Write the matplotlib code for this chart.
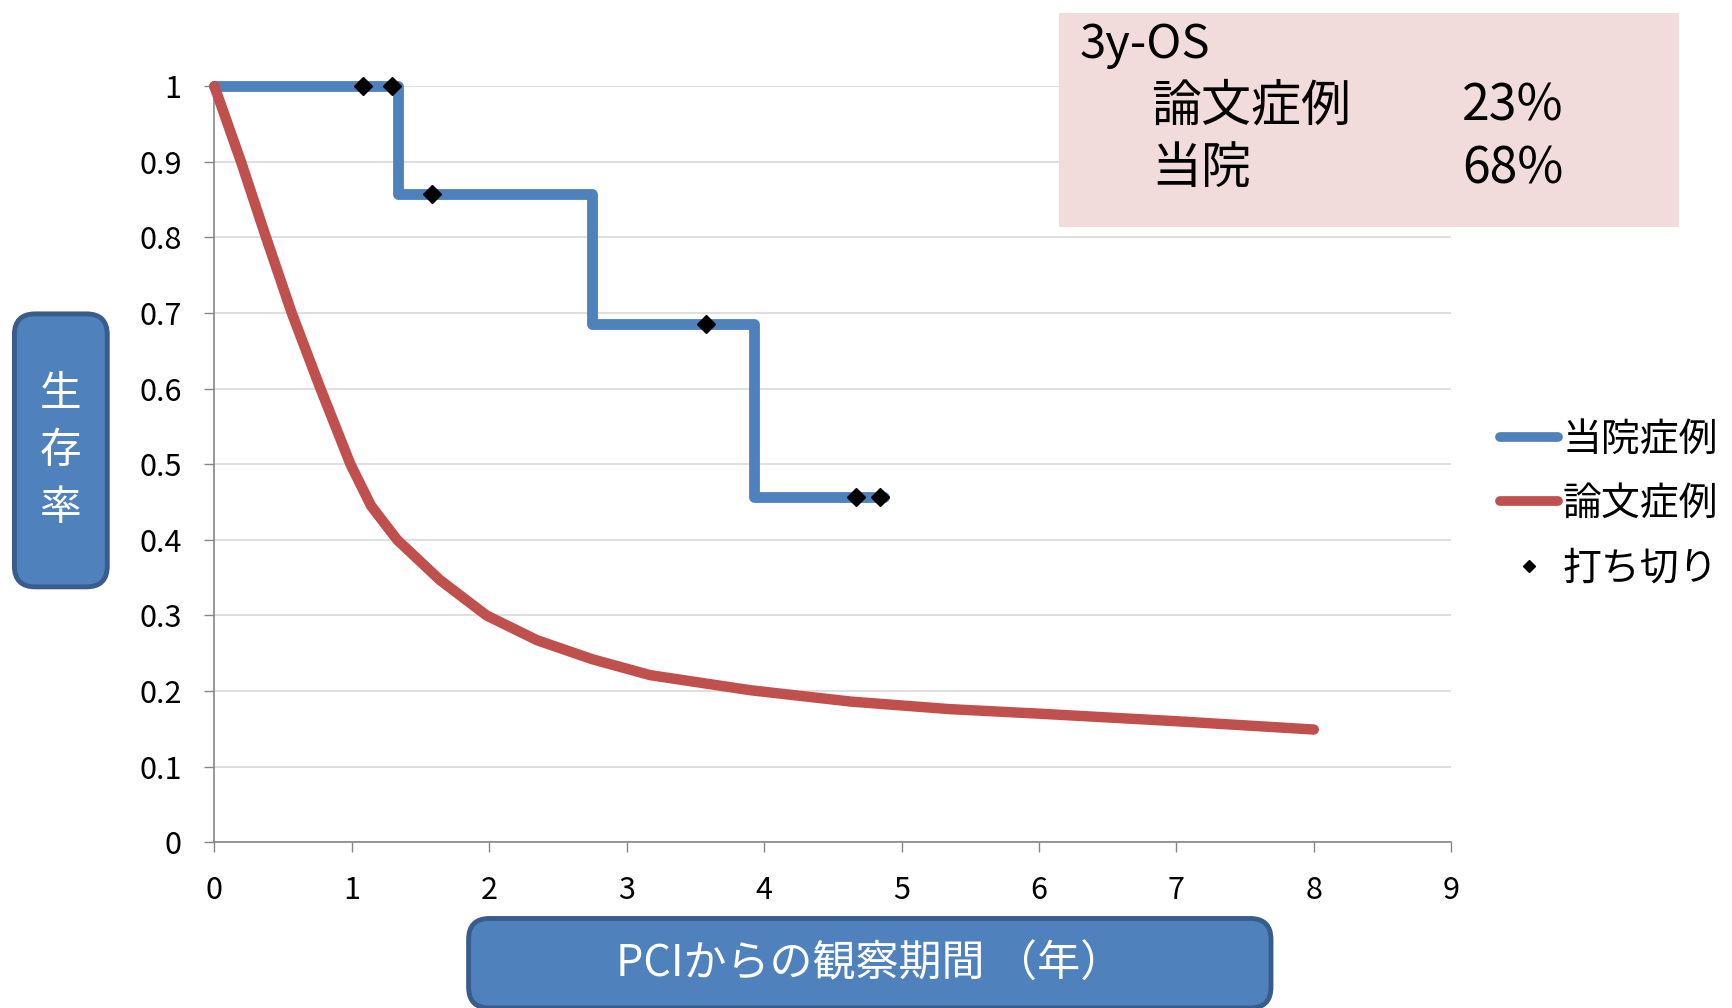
import matplotlib
matplotlib.use("Agg")
import matplotlib.pyplot as plt
from matplotlib.lines import Line2D
from matplotlib.patches import FancyBboxPatch, Rectangle

plt.rcParams['font.family'] = ['Noto Sans CJK JP', 'DejaVu Sans']

# Kaplan-Meier curve of our hospital's cases (years, survival)
km_times = [0, 1.335, 2.746, 3.93, 4.87]
km_surv = [1.0, 0.857, 0.686, 0.457, 0.457]

# Censored observations
cens_times = [1.08, 1.29, 1.58, 3.58, 4.67, 4.84]
cens_surv = [1.0, 1.0, 0.857, 0.686, 0.457, 0.457]

# Survival curve reported in the literature
lit_times = [0, 0.194, 0.376, 0.563, 0.772, 0.99, 1.14, 1.33, 1.64, 1.98,
             2.35, 2.75, 3.17, 3.9, 4.63, 5.35, 6.0, 7.0, 8.0]
lit_surv = [1.0, 0.9, 0.8, 0.7, 0.6, 0.5, 0.445, 0.4, 0.347, 0.3,
            0.267, 0.242, 0.221, 0.201, 0.186, 0.176, 0.170, 0.160, 0.149]

x_ticks = list(range(0, 10))
y_ticks = [0, 0.1, 0.2, 0.3, 0.4, 0.5, 0.6, 0.7, 0.8, 0.9, 1.0]
y_tick_labels = ['0', '0.1', '0.2', '0.3', '0.4', '0.5', '0.6', '0.7', '0.8', '0.9', '1']

legend_labels = ['当院症例', '論文症例', '打ち切り']
os_title = '3y-OS'
os_groups = ['論文症例', '当院']
os_values = ['23%', '68%']

blue = '#4F81BD'
red = '#C0504D'
grid_c = '#D9D9D9'
axis_c = '#868686'

W, H = 1733, 1008
fig = plt.figure(figsize=(W / 100, H / 100), dpi=100)
ax = fig.add_axes([0.1237, 0.1645, 0.8374 - 0.1237, 0.9145 - 0.1645])

ax.step(km_times, km_surv, where='post', color=blue, lw=7.8,
        solid_joinstyle='round', solid_capstyle='round', clip_on=False, zorder=3)
ax.plot(lit_times, lit_surv, color=red, lw=7.5,
        solid_joinstyle='round', solid_capstyle='round', clip_on=False, zorder=3)
ax.plot(cens_times, cens_surv, linestyle='none', marker='D', markersize=9.5,
        color='black', clip_on=False, zorder=4)

ax.set_xlim(0, 9)
ax.set_ylim(0, 1)
ax.set_xticks(x_ticks)
ax.set_yticks(y_ticks)
ax.set_yticklabels(y_tick_labels)
ax.yaxis.grid(True, color=grid_c, lw=1.2)
ax.set_axisbelow(True)
for s in ['top', 'right']:
    ax.spines[s].set_visible(False)
for s in ['left', 'bottom']:
    ax.spines[s].set_color(axis_c)
    ax.spines[s].set_linewidth(1.2)
ax.tick_params(axis='both', direction='out', length=7.5, width=1.0,
               color=axis_c, labelsize=22, labelcolor='black')
ax.tick_params(axis='x', pad=16)
ax.tick_params(axis='y', pad=16)

# Legend on the right
handles = [
    Line2D([], [], color=blue, lw=7, solid_capstyle='round'),
    Line2D([], [], color=red, lw=7, solid_capstyle='round'),
    Line2D([], [], linestyle='none', marker='D', markersize=6.5, color='black'),
]
fig.legend(handles, legend_labels, loc='center left',
           bbox_to_anchor=(0.8654, 0.50), bbox_transform=fig.transFigure,
           frameon=False, fontsize=28, borderpad=0, borderaxespad=0,
           handlelength=1.5, handletextpad=0.12, labelspacing=0.62)

# 3-year overall survival summary box
fig.patches.append(Rectangle((0.611, 0.775), 0.969 - 0.611, 0.987 - 0.775,
                             transform=fig.transFigure, facecolor='#F2DCDB',
                             edgecolor='none', zorder=5))
fig.text(0.623, 0.956, os_title, fontsize=34, va='center', ha='left', zorder=6)
for i, (g, v) in enumerate(zip(os_groups, os_values)):
    yy = 0.8947 - i * 0.0625
    fig.text(0.6645, yy, g, fontsize=36, va='center', ha='left', zorder=6)
    fig.text(0.8437, yy, v, fontsize=36, va='center', ha='left', zorder=6)

# Rounded label boxes for the axes
asp = W / H
ybox = FancyBboxPatch((0.0083, 0.4178), 0.0619 - 0.0083, 0.6886 - 0.4178,
                      boxstyle='round,pad=0,rounding_size=0.012',
                      mutation_aspect=asp, transform=fig.transFigure,
                      facecolor=blue, edgecolor='#385D8A', lw=3.5, zorder=5)
fig.patches.append(ybox)
for i, ch in enumerate('生存率'):
    fig.text(0.0351, 1 - (357 + i * 51.5) / 912, ch, color='white', fontsize=30,
             ha='center', va='center', zorder=6)

xbox = FancyBboxPatch((0.2704, 0.0), 0.7334 - 0.2704, 0.0888,
                      boxstyle='round,pad=0,rounding_size=0.012',
                      mutation_aspect=asp, transform=fig.transFigure,
                      facecolor=blue, edgecolor='#385D8A', lw=3.5, zorder=5)
fig.patches.append(xbox)
fig.text(0.502, 0.0428, 'PCIからの観察期間 （年）', color='white', fontsize=31,
         ha='center', va='center', zorder=6)

fig.savefig('out.png', dpi=100)
